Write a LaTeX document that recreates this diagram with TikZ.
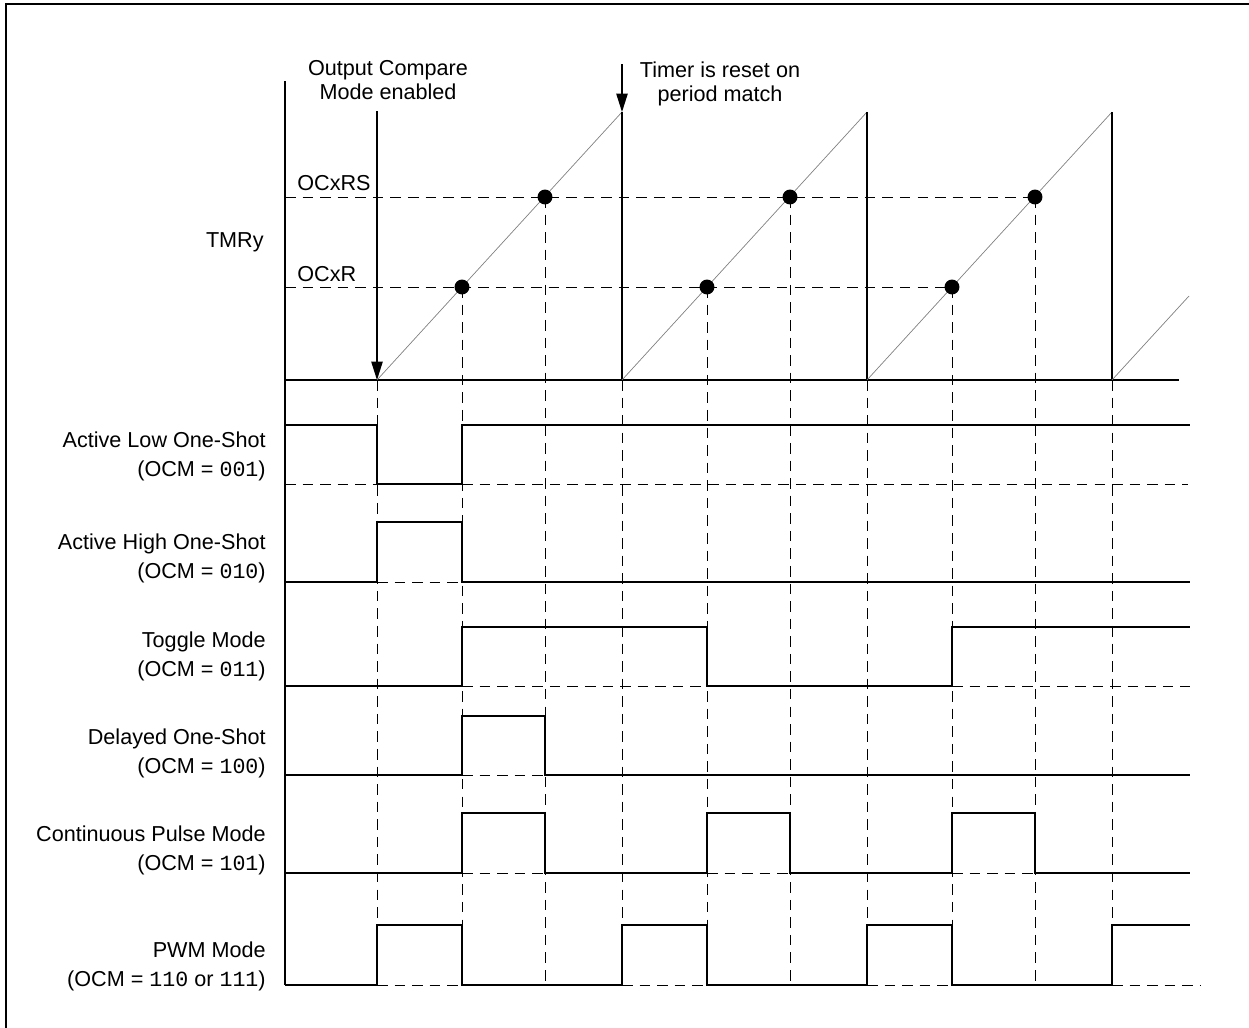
\documentclass[tikz,border=0pt]{standalone}
\usepackage{fontspec}
\setmainfont{Liberation Sans}
\setmonofont{Liberation Mono}
\usetikzlibrary{arrows.meta,positioning}

\begin{document}
\begin{tikzpicture}[x=0.02cm, y=-0.02cm,
  sig/.style={line width=0.7pt},
  guide/.style={line width=0.55pt, dash pattern=on 6pt off 4pt},
  ramp/.style={line width=0.4pt, gray},
  arr/.style={-{Triangle[length=10.5pt,width=6.5pt]}, line width=0.7pt},
  hit/.style={circle, fill, inner sep=0pt, minimum size=8.5pt},
  lbl/.style={anchor=east, align=right, inner sep=0pt,
    font=\fontsize{12.3}{16.5}\selectfont},
  note/.style={align=center, inner sep=0pt,
    font=\fontsize{12.3}{13.5}\selectfont}
]
  \useasboundingbox (0,0) rectangle (1249,1028);
  \draw[sig] (6,1028) -- (6,4) -- (1249,4);

  % timer axis and compare levels
  \draw[sig] (285,81) -- (285,985);
  \draw[sig] (285,380) -- (1179,380);
  \draw[guide] (285,197) -- (1035,197);
  \draw[guide] (285,287) -- (952,287);
  \node[anchor=west, inner sep=0pt, font=\fontsize{12.3}{14}\selectfont] (rs) at (297,183) {OCxRS};
  \node[anchor=west, inner sep=0pt, font=\fontsize{12.3}{14}\selectfont] (r) at (297,274) {OCxR};
  \node[lbl] (tmr) at (264,242) {TMRy};

  % sawtooth
  \foreach \k in {0,1,2} {
    \draw[ramp] (377+245*\k,380) -- (622+245*\k,112);
    \draw[sig] (622+245*\k,112) -- (622+245*\k,380);
    \node[hit] (hr\k) at (462+245*\k,287) {};
    \node[hit] (hs\k) at (545+245*\k,197) {};
  }
  \draw[ramp] (1112,380) -- (1189,296);

  % event arrows
  \node[note] (enable) at (388,80) {Output Compare\\Mode enabled};
  \node[note] (reset) at (720,84) {Timer is reset on\\period match};
  \coordinate (en top) at (377,111);
  \coordinate (en tip) at (377,380);
  \coordinate (rs top) at (622,64);
  \coordinate (rs tip) at (622,112);
  \draw[arr] (en top) -- (en tip);
  \draw[arr] (rs top) -- (rs tip);

  % vertical guides
  \foreach \xa/\ya/\yb in {377/380/925, 462/287/985, 545/197/985,
    622/380/925, 707/287/985, 790/197/985, 867/380/925,
    952/287/985, 1035/197/985, 1112/380/925}
    \draw[guide] (\xa,\ya) -- (\xa,\yb);

  % Active Low One-Shot
  \node[lbl] (alo) at (266,456) {Active Low One-Shot\\(OCM = \texttt{001})};
  \draw[sig] (285,425) -| (377,484) -| (462,425) -- (1190,425);
  \draw[guide] (285,484) -- (377,484);
  \draw[guide] (462,484) -- (1188,484);

  % Active High One-Shot
  \node[lbl] (aho) at (266,558) {Active High One-Shot\\(OCM = \texttt{010})};
  \draw[sig] (285,582) -| (377,522) -| (462,582) -- (1190,582);
  \draw[guide] (377,582) -- (462,582);

  % Toggle Mode
  \node[lbl] (tgl) at (266,656) {Toggle Mode\\(OCM = \texttt{011})};
  \draw[sig] (285,686) -| (462,627) -| (707,686) -| (952,627) -- (1190,627);
  \draw[guide] (462,686) -- (707,686);
  \draw[guide] (952,686) -- (1190,686);

  % Delayed One-Shot
  \node[lbl] (dos) at (266,753) {Delayed One-Shot\\(OCM = \texttt{100})};
  \draw[sig] (285,775) -| (462,716) -| (545,775) -- (1190,775);
  \draw[guide] (462,775) -- (545,775);

  % Continuous Pulse Mode
  \node[lbl] (cpm) at (266,850) {Continuous Pulse Mode\\(OCM = \texttt{101})};
  \draw[sig] (285,873) -| (462,813) -| (545,873) -| (707,813) -| (790,873)
    -| (952,813) -| (1035,873) -- (1190,873);
  \foreach \xa in {462,707,952}
    \draw[guide] (\xa,873) -- (\xa+83,873);

  % PWM Mode
  \node[lbl] (pwm) at (266,966) {PWM Mode\\(OCM = \texttt{110} or \texttt{111})};
  \draw[sig] (285,985) -| (377,925) -| (462,985) -| (622,925) -| (707,985)
    -| (867,925) -| (952,985) -| (1112,925) -- (1190,925);
  \foreach \xa in {377,622,867}
    \draw[guide] (\xa,985) -- (\xa+85,985);
  \draw[guide] (1112,985) -- (1200,985);
\end{tikzpicture}
\end{document}
